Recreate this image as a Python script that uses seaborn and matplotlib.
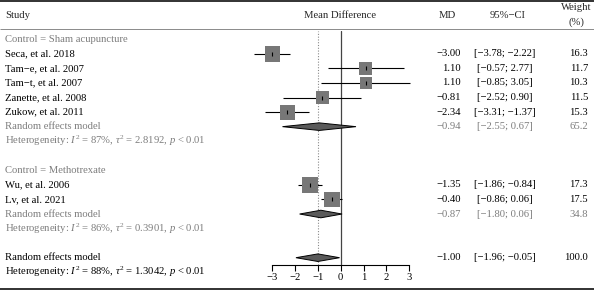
import numpy as np
import pandas as pd
import matplotlib
matplotlib.use("Agg")
import matplotlib.pyplot as plt
import seaborn as sns
from matplotlib import transforms

# ---------------- data ----------------
studies = ["Seca, et al. 2018", "Tam\u2212e, et al. 2007", "Tam\u2212t, et al. 2007",
           "Zanette, et al. 2008", "Zukow, et al. 2011",
           "Wu, et al. 2006", "Lv, et al. 2021"]
groups = ["Sham acupuncture"] * 5 + ["Methotrexate"] * 2
md = [-3.00, 1.10, 1.10, -0.81, -2.34, -1.35, -0.40]
ci_lo = [-3.78, -0.57, -0.85, -2.52, -3.31, -1.86, -0.86]
ci_hi = [-2.22, 2.77, 3.05, 0.90, -1.37, -0.84, 0.06]
weight = [16.3, 11.7, 10.3, 11.5, 15.3, 17.3, 17.5]

sub_names = ["Sham acupuncture", "Methotrexate"]
sub_md = [-0.94, -0.87]
sub_lo = [-2.55, -1.80]
sub_hi = [0.67, 0.06]
sub_wt = [65.2, 34.8]
sub_i2 = ["87%", "86%"]
sub_tau2 = ["2.8192", "0.3901"]
sub_p = ["< 0.01", "< 0.01"]

all_md, all_lo, all_hi, all_wt = -1.00, -1.96, -0.05, 100.0
all_i2, all_tau2, all_p = "88%", "1.3042", "< 0.01"

xticks = [-3, -2, -1, 0, 1, 2, 3]

# ---------------- layout ----------------
W, H = 594, 290
sns.set_style("white")
plt.rcParams["font.family"] = ["Liberation Serif", "DejaVu Serif"]
plt.rcParams["mathtext.fontset"] = "custom"
plt.rcParams["mathtext.rm"] = "Liberation Serif"
plt.rcParams["mathtext.it"] = "Liberation Serif:italic"
FS = 7.7
GRAY = "#7d7d7d"

fig = plt.figure(figsize=(W / 100, H / 100), dpi=100)

# overlay axes in pixel coordinates for text and rules
ov = fig.add_axes([0, 0, 1, 1])
ov.set_xlim(0, W)
ov.set_ylim(H, 0)
ov.axis("off")

# forest axes
y0_px, dy_px = 39.3, 14.56
px_per_unit = 22.83
x0_px = 340.7  # pixel of zero
xl, xr = -3.4, 3.4
top_px, bot_px = 31, 265
r_top = (top_px - y0_px) / dy_px
r_bot = (bot_px - y0_px) / dy_px
ax = fig.add_axes([(x0_px + xl * px_per_unit) / W, 1 - bot_px / H,
                   (xr - xl) * px_per_unit / W, (bot_px - top_px) / H])
ax.set_xlim(xl, xr)
ax.set_ylim(r_bot, r_top)
ax.patch.set_alpha(0)

# row indices
study_rows = [1, 2, 3, 4, 5, 10, 11]
header_rows = [0, 9]
sub_rows = [6, 12]
het_rows = [7, 13]
all_row, all_het_row = 15, 16

df = pd.DataFrame({"study": studies, "group": groups, "md": md, "lo": ci_lo,
                   "hi": ci_hi, "weight": weight, "row": study_rows})

# CI lines
ax.hlines(df["row"], df["lo"], df["hi"], color="black", lw=0.8, zorder=1, clip_on=False)
# weighted squares
k = 7.5
sns.scatterplot(data=df, x="md", y="row", size="weight", sizes=(0, 17.5 * k),
                size_norm=(0, 17.5), marker="s", color="#777777", edgecolor="none",
                linewidth=0, legend=False, ax=ax, zorder=2, clip_on=False)
# point estimate ticks
ax.scatter(df["md"], df["row"], marker="|", s=9, color="black", linewidths=0.8,
           zorder=3, clip_on=False)

# diamonds
def diamond(m, lo, hi, r, hh=0.26):
    ax.fill([lo, m, hi, m], [r, r - hh, r, r + hh], facecolor="#5a5a5a",
            edgecolor="black", lw=0.7, zorder=3, clip_on=False)

for m, lo, hi, r in zip(sub_md, sub_lo, sub_hi, sub_rows):
    diamond(m, lo, hi, r)
diamond(all_md, all_lo, all_hi, all_row)

# reference lines
ax.axvline(0, color="#444444", lw=0.9, zorder=0)
ax.axvline(all_md, color="#8a8a8a", lw=0.8, ls=(0, (1, 1.5)), zorder=0)

# axis styling
for s in ["top", "left", "right"]:
    ax.spines[s].set_visible(False)
ax.spines["bottom"].set_bounds(-3, 3)
ax.spines["bottom"].set_color("black")
ax.spines["bottom"].set_linewidth(0.8)
ax.set_xticks(xticks)
ax.set_xticklabels([("\u2212%d" % -t) if t < 0 else str(t) for t in xticks])
ax.tick_params(axis="x", direction="out", length=4, width=0.8, pad=1.5,
               labelsize=FS, colors="black", bottom=True)
ax.set_yticks([])
ax.set_xlabel("")
ax.set_ylabel("")

# ---------------- text ----------------
tr = transforms.blended_transform_factory(ov.transData, ax.transData)
X_STUDY, X_MD, X_CI, X_W = 5, 461, 505, 588

def fmt(v):
    return ("%.2f" % v) if v >= 0 else ("\u2212%.2f" % -v)

def row_text(r, name, m, lo, hi, w, color):
    kw = dict(transform=tr, va="center", fontsize=FS, color=color, clip_on=False)
    ax.text(X_STUDY, r, name, ha="left", **kw)
    ax.text(X_MD, r, fmt(m), ha="right", **kw)
    ax.text(X_CI, r, "[%s; %s]" % (fmt(lo), fmt(hi)), ha="center", **kw)
    ax.text(X_W, r, "%.1f" % w, ha="right", **kw)

for i in range(len(studies)):
    row_text(study_rows[i], studies[i], md[i], ci_lo[i], ci_hi[i], weight[i], "black")

def het_text(r, i2, tau2, p, color):
    s = r"Heterogeneity: $I^2$ = %s, $\tau^2$ = %s, $p$ %s" % (i2, tau2, p)
    ax.text(X_STUDY, r, s, transform=tr, ha="left", va="center", fontsize=FS, color=color, clip_on=False)

for j in range(2):
    ax.text(X_STUDY, header_rows[j], "Control = " + sub_names[j], transform=tr, ha="left",
            va="center", fontsize=FS, color=GRAY, clip_on=False)
    row_text(sub_rows[j], "Random effects model", sub_md[j], sub_lo[j], sub_hi[j], sub_wt[j], GRAY)
    het_text(het_rows[j], sub_i2[j], sub_tau2[j], sub_p[j], GRAY)

row_text(all_row, "Random effects model", all_md, all_lo, all_hi, all_wt, "black")
het_text(all_het_row, all_i2, all_tau2, all_p, "black")

# header
ov.text(5, 15, "Study", ha="left", va="center", fontsize=FS)
ov.text(340.5, 15, "Mean Difference", ha="center", va="center", fontsize=FS)
ov.text(447.5, 15, "MD", ha="center", va="center", fontsize=FS)
ov.text(508, 15, "95%\u2212CI", ha="center", va="center", fontsize=FS)
ov.text(576.5, 7.5, "Weight", ha="center", va="center", fontsize=FS)
ov.text(576.5, 22, "(%)", ha="center", va="center", fontsize=FS)

# rules
ov.hlines([1], 0, W, color="#222222", lw=1.3)
ov.hlines([29.3], 0, W, color="#777777", lw=0.6)
ov.hlines([288.5], 0, W, color="#222222", lw=1.3)

fig.savefig("out.png", dpi=100)
